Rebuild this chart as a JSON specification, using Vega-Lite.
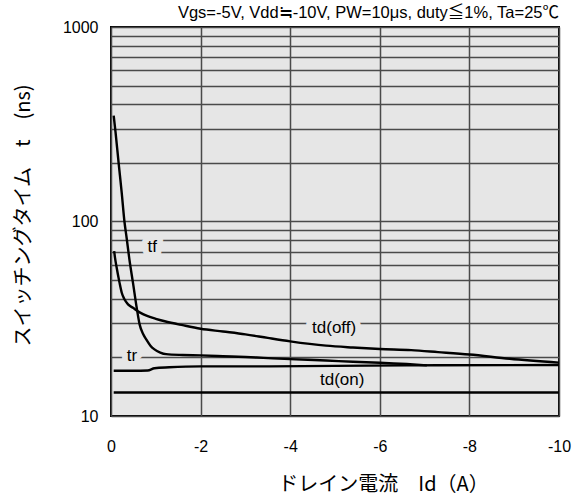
{
  "$schema": "https://vega.github.io/schema/vega-lite/v6.json",
  "width": 448,
  "height": 389,
  "autosize": {"type": "none"},
  "padding": {"left": 111, "top": 27, "right": 19, "bottom": 83},
  "background": "white",
  "title": {
    "text": "Vgs=-5V, Vdd≒-10V, PW=10μs, duty≦1%, Ta=25℃",
    "anchor": "end",
    "frame": "group",
    "fontSize": 16.5,
    "fontWeight": "normal",
    "font": "Liberation Sans, Noto Sans CJK JP",
    "color": "#000",
    "offset": 6,
    "dy": 8
  },
  "config": {
    "view": {"fill": "#e6e6e6", "stroke": "#000", "strokeWidth": 2},
    "axis": {
      "grid": true,
      "gridColor": "#4a4a4a",
      "gridWidth": 1.5,
      "gridOpacity": 1,
      "domain": false,
      "ticks": false,
      "labelFont": "Liberation Sans",
      "labelFontSize": 16,
      "labelColor": "#000",
      "labelFlush": false,
      "labelOverlap": false,
      "titleFont": "Noto Sans CJK JP",
      "titleFontSize": 20,
      "titleFontWeight": "normal",
      "titleColor": "#000"
    }
  },
  "datasets": {
    "curves": [
      {"series": "tr", "x": -0.06, "y": 350},
      {"series": "tr", "x": -0.1, "y": 290},
      {"series": "tr", "x": -0.17, "y": 200},
      {"series": "tr", "x": -0.24, "y": 140},
      {"series": "tr", "x": -0.3, "y": 100},
      {"series": "tr", "x": -0.35, "y": 82},
      {"series": "tr", "x": -0.41, "y": 64},
      {"series": "tr", "x": -0.49, "y": 48.5},
      {"series": "tr", "x": -0.58, "y": 35.3},
      {"series": "tr", "x": -0.64, "y": 29.5},
      {"series": "tr", "x": -0.72, "y": 26.3},
      {"series": "tr", "x": -0.79, "y": 24.7},
      {"series": "tr", "x": -0.88, "y": 23},
      {"series": "tr", "x": -0.97, "y": 22},
      {"series": "tr", "x": -1.1, "y": 21.2},
      {"series": "tr", "x": -1.23, "y": 20.8},
      {"series": "tr", "x": -1.6, "y": 20.6},
      {"series": "tr", "x": -2.0, "y": 20.5},
      {"series": "tr", "x": -2.5, "y": 20.3},
      {"series": "tr", "x": -3.0, "y": 20.1},
      {"series": "tr", "x": -3.4, "y": 19.9},
      {"series": "tr", "x": -4.0, "y": 19.6},
      {"series": "tr", "x": -4.8, "y": 19.3},
      {"series": "tr", "x": -5.4, "y": 19.0},
      {"series": "tr", "x": -6.0, "y": 18.8},
      {"series": "tr", "x": -6.6, "y": 18.5},
      {"series": "tr", "x": -7.05, "y": 18.2},
      {"series": "tf", "x": -0.07, "y": 70.5},
      {"series": "tf", "x": -0.09, "y": 65},
      {"series": "tf", "x": -0.12, "y": 59},
      {"series": "tf", "x": -0.19, "y": 48.5},
      {"series": "tf", "x": -0.24, "y": 43},
      {"series": "tf", "x": -0.3, "y": 39.8},
      {"series": "tf", "x": -0.38, "y": 37.5},
      {"series": "tf", "x": -0.49, "y": 36},
      {"series": "tf", "x": -0.65, "y": 34},
      {"series": "tf", "x": -0.82, "y": 32.6},
      {"series": "tf", "x": -1.0, "y": 31.6},
      {"series": "tf", "x": -1.2, "y": 30.7},
      {"series": "tf", "x": -1.6, "y": 29.3},
      {"series": "tf", "x": -2.0, "y": 28.1},
      {"series": "tf", "x": -2.5, "y": 27.2},
      {"series": "tf", "x": -3.0, "y": 26.3},
      {"series": "tf", "x": -3.5, "y": 25.2},
      {"series": "tf", "x": -4.0, "y": 24.2},
      {"series": "tf", "x": -4.8, "y": 23.0},
      {"series": "tf", "x": -5.4, "y": 22.5},
      {"series": "tf", "x": -6.0, "y": 22.1},
      {"series": "tf", "x": -6.7, "y": 21.8},
      {"series": "tf", "x": -7.3, "y": 21.3},
      {"series": "tf", "x": -8.0, "y": 20.7},
      {"series": "tf", "x": -8.9, "y": 19.7},
      {"series": "tf", "x": -10.0, "y": 18.8},
      {"series": "ton", "x": -0.06, "y": 17.1},
      {"series": "ton", "x": -0.5, "y": 17.1},
      {"series": "ton", "x": -0.82, "y": 17.15},
      {"series": "ton", "x": -0.97, "y": 17.6},
      {"series": "ton", "x": -1.3, "y": 17.8},
      {"series": "ton", "x": -2.0, "y": 18.0},
      {"series": "ton", "x": -3.3, "y": 18.0},
      {"series": "ton", "x": -5.0, "y": 18.1},
      {"series": "ton", "x": -6.6, "y": 18.2},
      {"series": "ton", "x": -10.0, "y": 18.3},
      {"series": "base", "x": -0.06, "y": 13.2},
      {"series": "base", "x": -10.0, "y": 13.2}
    ],
    "labels": [
      {"label": "tf", "x": -0.92, "y": 74.1},
      {"label": "tr", "x": -0.47, "y": 20.3},
      {"label": "td(off)", "x": -4.98, "y": 28.4},
      {"label": "td(on)", "x": -5.16, "y": 15.4}
    ]
  },
  "layer": [
    {
      "data": {"name": "labels"},
      "mark": {"type": "text", "stroke": "#e6e6e6", "strokeWidth": 12, "strokeJoin": "round", "fill": "#e6e6e6", "fontSize": 17, "font": "Liberation Sans", "baseline": "middle", "align": "center"},
      "encoding": {
        "x": {
          "field": "x", "type": "quantitative",
          "scale": {"domain": [0, -10], "nice": false, "zero": false},
          "axis": {
            "values": [0, -2, -4, -6, -8, -10],
            "labelExpr": "toString(datum.value)",
            "labelPadding": 22,
            "title": "ドレイン電流　Id（A）",
            "titleX": 272,
            "titleY": 68,
            "titleBaseline": "middle",
            "titleAlign": "center"
          }
        },
        "y": {
          "field": "y", "type": "quantitative",
          "scale": {"type": "log", "domain": [10, 1000], "nice": false},
          "axis": {
            "values": [10, 20, 30, 40, 50, 60, 70, 80, 90, 100, 200, 300, 400, 500, 600, 700, 800, 900, 1000],
            "labelExpr": "datum.value == 10 || datum.value == 100 || datum.value == 1000 ? toString(datum.value) : ''",
            "labelPadding": 13,
            "title": "スイッチングタイム　t　(ns)",
            "titleX": -88,
            "titleY": 188,
            "titleAngle": 270,
            "titleBaseline": "middle",
            "titleAlign": "center"
          }
        },
        "text": {"field": "label"}
      }
    },
    {
      "data": {"name": "curves"},
      "mark": {"type": "line", "color": "#000", "strokeWidth": 2.4, "interpolate": "monotone"},
      "encoding": {
        "x": {"field": "x", "type": "quantitative", "scale": {"domain": [0, -10], "nice": false, "zero": false}},
        "y": {"field": "y", "type": "quantitative", "scale": {"type": "log", "domain": [10, 1000], "nice": false}},
        "detail": {"field": "series"}
      }
    },
    {
      "data": {"name": "labels"},
      "mark": {"type": "text", "color": "#000", "fontSize": 17, "font": "Liberation Sans", "baseline": "middle", "align": "center"},
      "encoding": {
        "x": {"field": "x", "type": "quantitative", "scale": {"domain": [0, -10], "nice": false, "zero": false}},
        "y": {"field": "y", "type": "quantitative", "scale": {"type": "log", "domain": [10, 1000], "nice": false}},
        "text": {"field": "label"}
      }
    }
  ]
}
